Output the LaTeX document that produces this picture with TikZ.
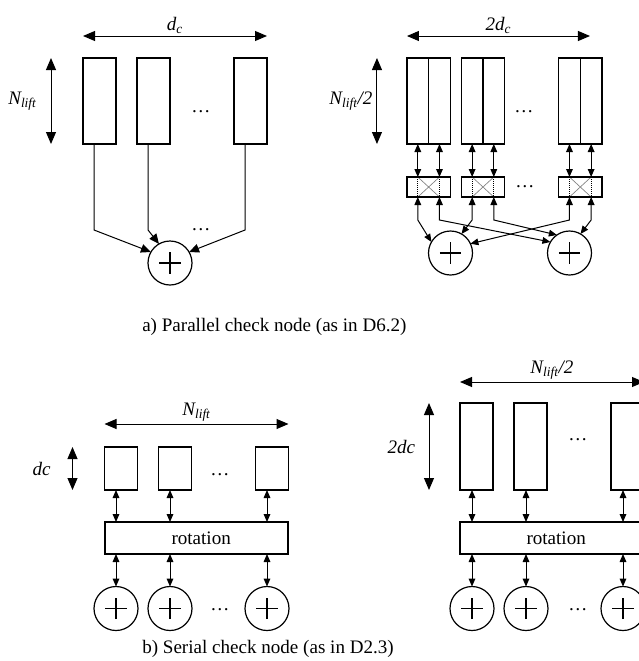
\documentclass[tikz,border=0pt]{standalone}
\usepackage{fontspec}
\setmainfont{Liberation Serif}
\usetikzlibrary{arrows.meta, positioning, calc}

\begin{document}
\begin{tikzpicture}[
        x=0.75pt, y=-0.75pt,
        font=\fontsize{14.3}{17}\selectfont,
        tallcol/.style={rectangle, draw, line width=0.9pt, minimum width=24.75pt, minimum height=64.5pt, inner sep=0pt, outer sep=0pt},
        halfcol/.style={tallcol, minimum width=16.25pt},
        shortcol/.style={tallcol, minimum height=32.25pt},
        midcol/.style={tallcol, minimum height=65.25pt},
        xbar/.style={rectangle, draw, line width=0.9pt, minimum width=32.5pt, minimum height=15pt, inner sep=0pt, outer sep=0pt,
            path picture={
                \draw[densely dotted, line width=0.5pt] ([xshift=-8.125pt]path picture bounding box.north) -- ([xshift=-8.125pt]path picture bounding box.south)
                    ([xshift=8.125pt]path picture bounding box.north) -- ([xshift=8.125pt]path picture bounding box.south);
                \draw[gray, line width=0.5pt] ([xshift=-8.125pt]path picture bounding box.north) -- ([xshift=8.125pt]path picture bounding box.south)
                    ([xshift=-8.125pt]path picture bounding box.south) -- ([xshift=8.125pt]path picture bounding box.north);
            }},
        rotbox/.style={rectangle, draw, line width=0.9pt, minimum width=137.25pt, minimum height=24pt, inner sep=0pt, outer sep=0pt},
        xorsum/.style={circle, draw, line width=0.9pt, minimum size=33pt, inner sep=0pt, outer sep=0pt,
            path picture={
                \draw[line width=0.8pt] ([xshift=-7.9pt]path picture bounding box.center) -- ([xshift=7.9pt]path picture bounding box.center)
                    ([yshift=-7.9pt]path picture bounding box.center) -- ([yshift=7.9pt]path picture bounding box.center);
            }},
        dim/.style={{Triangle[length=9pt,width=7.5pt]}-{Triangle[length=9pt,width=7.5pt]}, line width=0.75pt},
        link/.style={-{Triangle[length=7.5pt,width=6.5pt]}, line width=0.75pt},
        dlink/.style={{Triangle[length=6pt,width=5pt]}-{Triangle[length=6pt,width=5pt]}, line width=0.75pt},
        lbl/.style={inner sep=0pt, font=\fontsize{14.3}{17}\selectfont\itshape},
        caption/.style={anchor=base west, inner sep=0pt},
    ]
    \useasboundingbox (0,0) rectangle (639,661);
    \clip (0,0) rectangle (639,661);

    % a) parallel, left
    \node[tallcol] (a1) at (99.5,101) {};
    \node[tallcol, right=15.75pt of a1] (a2) {};
    \node[tallcol, right=48pt of a2] (a3) {};
    \node[xorsum] (s0) at (170,263) {};
    \node (ea1) at (201,112) {…};
    \node (ea2) at (201,230) {…};
    \draw[dim] ([yshift=16.5pt]a1.north west) -- ([yshift=16.5pt]a3.north east) node[midway, above=1.5pt, lbl] (wa) {d\textsubscript{c}};
    \draw[dim] ([xshift=-24pt]a1.north west) -- ([xshift=-24pt]a1.south west) node[midway, left=10.5pt, lbl] (ha) {N\textsubscript{lift}};
    \draw[link] ([xshift=-4.1pt]a1.south) -- ++(0,86) -- (s0.150);
    \draw[link] ([xshift=-4.1pt]a2.south) -- ++(0,86) -- (s0.120);
    \draw[link] ([xshift=-4.1pt]a3.south) -- ++(0,86) -- (s0.30);

    % a) parallel, right
    \node[halfcol] (h1a) at (417.8,101) {};
    \node[halfcol, right=0pt of h1a] (h1b) {};
    \node[halfcol, right=8.25pt of h1b] (h2a) {};
    \node[halfcol, right=0pt of h2a] (h2b) {};
    \node[halfcol, right=40.5pt of h2b] (h3a) {};
    \node[halfcol, right=0pt of h3a] (h3b) {};
    \node[xbar, below=24.75pt of h1a.south east] (c1) {};
    \node[xbar, below=24.75pt of h2a.south east] (c2) {};
    \node[xbar, below=24.75pt of h3a.south east] (c3) {};
    \node[xorsum] (L) at (450.5,253) {};
    \node[xorsum] (R) at (569.5,253) {};
    \node (eb1) at (524,112) {…};
    \node (eb2) at (525,187) {…};
    \draw[dim] ([yshift=16.5pt]h1a.north west) -- ([xshift=-9pt,yshift=16.5pt]h3b.north east) node[midway, above=1.5pt, lbl] (wb) {2d\textsubscript{c}};
    \draw[dim] ([xshift=-22.5pt]h1a.north west) -- ([xshift=-22.5pt]h1a.south west) node[midway, left=3pt, lbl] (hb) {N\textsubscript{lift}/2};
    \draw[dlink] (h1a.south) -- (h1a.south |- c1.north);
    \draw[dlink] (h1b.south) -- (h1b.south |- c1.north);
    \draw[dlink] (h2a.south) -- (h2a.south |- c2.north);
    \draw[dlink] (h2b.south) -- (h2b.south |- c2.north);
    \draw[dlink] (h3a.south) -- (h3a.south |- c3.north);
    \draw[dlink] (h3b.south) -- (h3b.south |- c3.north);
    \draw[dlink] (h1a |- c1.south) -- ++(0,23) -- (L.150);
    \draw[dlink] (h1b |- c1.south) -- ++(0,23) -- (R.150);
    \draw[dlink] (h2a |- c2.south) -- ++(0,23) -- (L.60);
    \draw[dlink] (h2b |- c2.south) -- ++(0,23) -- (R.125);
    \draw[dlink] (h3a |- c3.south) -- ++(0,23) -- (L.25);
    \draw[dlink] (h3b |- c3.south) -- ++(0,23) -- (R.60);

    \node[caption] (capa) at (142,331.7) {a) Parallel check node (as in D6.2)};

    % b) serial, left
    \node[shortcol] (b1) at (121,468.5) {};
    \node[shortcol, right=15.75pt of b1] (b2) {};
    \node[shortcol, right=48pt of b2] (b3) {};
    \node[rotbox] (rot1) at (196.5,538) {\hspace*{7pt}rotation};
    \node[xorsum] (t1) at (116,608.5) {};
    \node[xorsum] (t2) at (170,608.5) {};
    \node[xorsum] (t3) at (267,608.5) {};
    \node (ec1) at (220,475) {…};
    \node (ec2) at (220,610) {…};
    \draw[dim] ([yshift=17.25pt]b1.north west) -- ([yshift=17.25pt]b3.north east) node[midway, above=1.5pt, lbl] (wc) {N\textsubscript{lift}};
    \draw[dim] ([xshift=-24pt]b1.north west) -- ([xshift=-24pt]b1.south west) node[midway, left=16pt, lbl] (hc) {dc};
    \draw[dlink] (t1 |- b1.south) -- (t1 |- rot1.north);
    \draw[dlink] (t2 |- b2.south) -- (t2 |- rot1.north);
    \draw[dlink] (t3 |- b3.south) -- (t3 |- rot1.north);
    \draw[dlink] (t1 |- rot1.south) -- (t1.north);
    \draw[dlink] (t2 |- rot1.south) -- (t2.north);
    \draw[dlink] (t3 |- rot1.south) -- (t3.north);

    % b) serial, right
    \node[midcol] (r1) at (476.5,446.5) {};
    \node[midcol, right=15.75pt of r1] (r2) {};
    \node[midcol, right=48pt of r2] (r3) {};
    \node[rotbox] (rot2) at (551.5,538) {\hspace*{7pt}rotation};
    \node[xorsum] (u1) at (472,608.5) {};
    \node[xorsum] (u2) at (526,608.5) {};
    \node[xorsum] (u3) at (623,608.5) {};
    \node (ed1) at (578,440) {…};
    \node (ed2) at (578,610) {…};
    \draw[dim] ([yshift=15.75pt]r1.north west) -- ([yshift=15.75pt]r3.north east) node[midway, above=1.5pt, lbl] (wd) {N\textsubscript{lift}/2};
    \draw[dim] ([xshift=-23.25pt]r1.north west) -- ([xshift=-23.25pt]r1.south west) node[midway, left=10pt, lbl] (hd) {2dc};
    \draw[dlink] (u1 |- r1.south) -- (u1 |- rot2.north);
    \draw[dlink] (u2 |- r2.south) -- (u2 |- rot2.north);
    \draw[dlink] (u3 |- r3.south) -- (u3 |- rot2.north);
    \draw[dlink] (u1 |- rot2.south) -- (u1.north);
    \draw[dlink] (u2 |- rot2.south) -- (u2.north);
    \draw[dlink] (u3 |- rot2.south) -- (u3.north);

    \node[caption] (capb) at (142,653) {b) Serial check node (as in D2.3)};
\end{tikzpicture}
\end{document}
